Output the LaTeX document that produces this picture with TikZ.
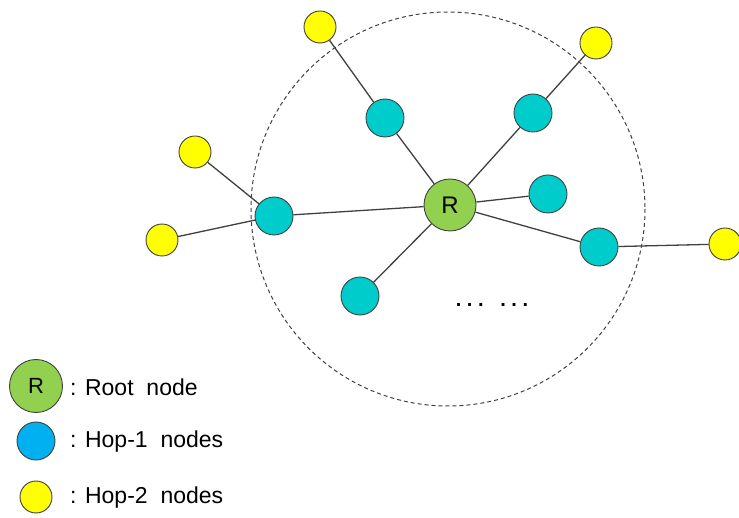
\documentclass[tikz,border=0pt]{standalone}
\usepackage{fontspec}
\setmainfont{Liberation Sans}
\usepackage{tikz}

\definecolor{rootgreen}{RGB}{146,208,80}
\definecolor{hopcyan}{RGB}{0,204,204}
\definecolor{hopblue}{RGB}{0,176,240}
\definecolor{hopyellow}{RGB}{255,255,0}
\definecolor{edgegray}{RGB}{64,64,64}

\begin{document}
\begin{tikzpicture}[x=1pt, y=-1pt,
  root/.style={circle, draw=edgegray, line width=0.9pt, fill=rootgreen, minimum size=52pt, inner sep=0pt, font=\fontsize{24}{26}\selectfont},
  hopone/.style={circle, draw=edgegray, line width=0.9pt, fill=hopcyan, minimum size=38pt, inner sep=0pt},
  hoptwo/.style={circle, draw=edgegray, line width=0.9pt, fill=hopyellow, minimum size=32pt, inner sep=0pt},
  link/.style={draw=edgegray, line width=1.3pt},
  legendtext/.style={anchor=west, inner sep=0pt, font=\fontsize{23}{26}\selectfont}]
  \useasboundingbox (0,0) rectangle (739,518);

  % one-hop range
  \draw[edgegray, line width=1pt, dash pattern=on 4pt off 3pt] (448,209) circle (197);

  % root and its neighbours
  \node[root] (r) at (450,205) {R};
  \node[hopone] (a) at (385,118) {};
  \node[hopone] (b) at (533,113) {};
  \node[hopone] (c) at (548,194) {};
  \node[hopone] (d) at (274,216) {};
  \node[hopone] (e) at (599,247) {};
  \node[hopone] (f) at (360,296) {};

  % two hops away
  \node[hoptwo] (aa) at (320,27) {};
  \node[hoptwo] (bb) at (596,43) {};
  \node[hoptwo] (dd) at (195,152) {};
  \node[hoptwo] (de) at (162,240) {};
  \node[hoptwo] (ee) at (725,244) {};

  \foreach \n in {a,b,c,d,e,f}
    \draw[link] (r) -- (\n);
  \draw[link] (a) -- (aa);
  \draw[link] (b) -- (bb);
  \draw[link] (d) -- (dd);
  \draw[link] (d) -- (de);
  \draw[link] (e) -- (ee);

  \node[inner sep=0pt, font=\fontsize{20}{24}\selectfont\bfseries] (more) at (492,305) {.\ .\ .\ \ \ .\ .\ .};

  % legend
  \node[root, minimum size=53pt, font=\fontsize{22}{24}\selectfont] (kr) at (36,386) {R};
  \node[hopone, fill=hopblue] (k1) at (36,441) {};
  \node[hoptwo] (k2) at (36,497) {};
  \node[legendtext] (tr) at (70,387) {: Root\ \ node};
  \node[legendtext] (t1) at (70,442) {: Hop-1\ \ nodes};
  \node[legendtext] (t2) at (70,498) {: Hop-2\ \ nodes};
\end{tikzpicture}
\end{document}
